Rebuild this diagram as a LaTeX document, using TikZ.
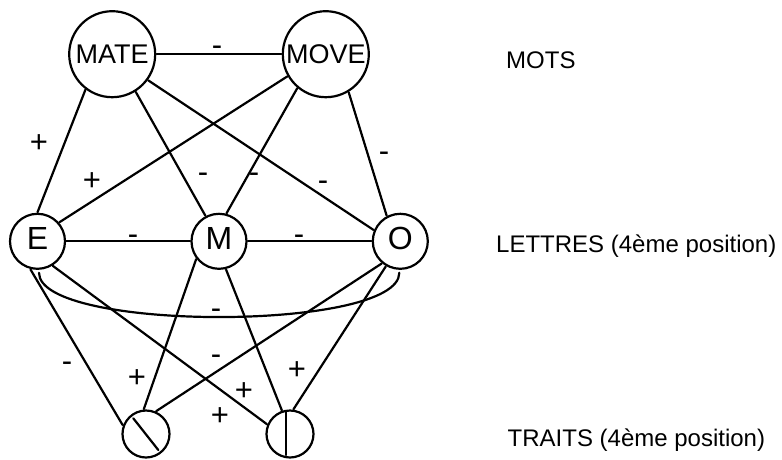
\documentclass[tikz,border=0pt]{standalone}
\usepackage{fontspec}
\setmainfont{Liberation Sans}
\tikzset{
  x=1pt, y=-1pt,
  conn/.style={line width=2.2pt, line cap=round},
  word/.style={circle, draw, line width=2.2pt, minimum size=86pt, inner sep=0pt, outer sep=1.5pt,
    font=\fontsize{27}{27}\selectfont},
  letter/.style={circle, draw, line width=2.2pt, minimum size=55pt, inner sep=0pt, outer sep=1.5pt,
    text depth=6pt, font=\fontsize{32}{32}\selectfont},
  feature/.style={circle, draw, line width=2.2pt, minimum size=47pt, inner sep=0pt, outer sep=1.5pt},
  sgn/.style={anchor=base, inner sep=0pt, font=\fontsize{31}{31}\selectfont},
  layer/.style={anchor=base west, inner sep=0pt, font=\fontsize{24}{24}\selectfont}
}
\begin{document}
\begin{tikzpicture}
\useasboundingbox (0,0) rectangle (782,459);

% word units
\node[word] (mate) at (112.2,54.2) {MATE};
\node[word] (move) at (325.8,54.2) {MOVE};

% letter units
\node[letter] (e) at (37.5,241.3) {E};
\node[letter] (m) at (219,241.3) {M};
\node[letter] (o) at (400.3,241.3) {O};

% feature units
\node[feature] (bl) at (146,434) {};
\node[feature] (br) at (290,434) {};
\draw[conn] ([shift={(-12.7,-15.7)}]bl.center) -- ([shift={(12.3,16)}]bl.center);
\draw[conn] ([shift={(-4.3,-22.3)}]br.center) -- ([shift={(-4.3,21)}]br.center);

% word -- word
\draw[conn] (mate.0) -- (move.180);
% word -- letter
\draw[conn] (mate.233) -- (e.90);
\draw[conn] (mate.302) -- (m.118);
\draw[conn] (mate.324) -- (o.157);
\draw[conn] (move.210) -- (e.41);
\draw[conn] (move.230) -- (m.75);
\draw[conn] (move.301) -- (o.118);
% letter -- letter
\draw[conn] (e.0) -- (m.180);
\draw[conn] (m.0) -- (o.180);
\draw[conn] ([shift={(1.5,2.5)}]e.south) .. controls +(0,59) and +(0,59) .. ([shift={(-1,2.5)}]o.south);
% letter -- feature
\draw[conn] (e.256) -- (bl.159);
\draw[conn] (e.302) -- (br.157);
\draw[conn] (m.218) -- (bl.95);
\draw[conn] (m.284) -- (br.109);
\draw[conn] (o.230) -- (bl.66);
\draw[conn] (o.240) -- (br.82);

% connection signs
\node[sgn] (s1) at (217,55.6) {-};
\node[sgn] (s2) at (39,152.9) {+};
\node[sgn] (s3) at (92,190.9) {+};
\node[sgn] (s4) at (203,182.6) {-};
\node[sgn] (s5) at (254,182.6) {-};
\node[sgn] (s6) at (323,190.6) {-};
\node[sgn] (s7) at (384,161.6) {-};
\node[sgn] (s8) at (133,244.6) {-};
\node[sgn] (s9) at (299,244.6) {-};
\node[sgn] (s10) at (216,318.6) {-};
\node[sgn] (s11) at (67,371.6) {-};
\node[sgn] (s12) at (137,387.9) {+};
\node[sgn] (s13) at (216,364.6) {-};
\node[sgn] (s14) at (244,400.9) {+};
\node[sgn] (s15) at (220,425.9) {+};
\node[sgn] (s16) at (297,379.9) {+};

% layer names
\node[layer] (mots) at (506,68) {MOTS};
\node[layer] (lettres) at (496,252) {LETTRES (4ème position)};
\node[layer] (traits) at (507.5,446) {TRAITS (4ème position)};
\end{tikzpicture}
\end{document}
